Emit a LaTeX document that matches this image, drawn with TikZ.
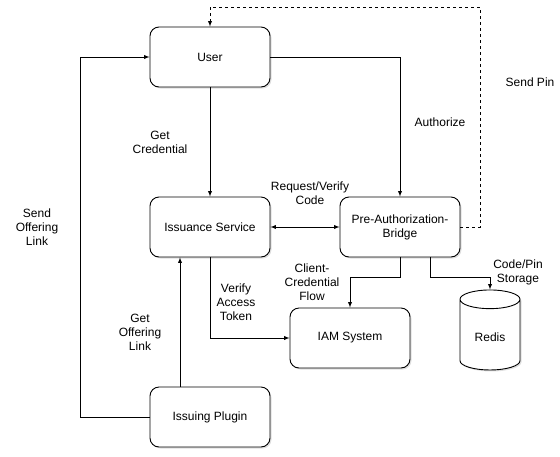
\documentclass[tikz,border=0pt]{standalone}
\usepackage{fontspec}
\setmainfont{Liberation Sans}
\usetikzlibrary{shapes.geometric, shadows}

\begin{document}
\begin{tikzpicture}[x=1pt,y=-1pt,>=latex,line width=0.9pt,
        font=\fontsize{12}{14}\selectfont,
        box/.style={draw,fill=white,rounded corners=9pt,minimum width=120pt,minimum height=60pt,align=center,
            drop shadow={opacity=0.25,shadow xshift=1.5pt,shadow yshift=-1.5pt}},
        store/.style={draw,fill=white,cylinder,shape border rotate=90,aspect=0.5,minimum width=60pt,minimum height=80pt,
            drop shadow={opacity=0.25,shadow xshift=1.5pt,shadow yshift=-1.5pt}},
        lbl/.style={align=center},
        pin/.style={dash pattern=on 3pt off 3pt}]
        \useasboundingbox (0,0) rectangle (560,456);

        % draw the boxes
        \node[box] (user)   at (210,57)  {User};
        \node[box] (issue)  at (210,227) {Issuance Service};
        \node[box] (bridge) at (400,227) {Pre-Authorization-\\Bridge};
        \node[box] (iam)    at (350,338) {IAM System};
        \node[box] (plugin) at (210,417) {Issuing Plugin};
        \node[store] (redis) at (490,337) {Redis};

        % corners of the long connectors
        \coordinate (pinTop)  at (480,7);
        \coordinate (linkTop) at (80,57);

        % draw the connectors
        \draw[->] (user) -- (issue);
        \draw[->] (user.east) -| (bridge.north);
        \draw[<->] (issue) -- (bridge);
        \draw[->,pin] (bridge.east) -| (pinTop) -| (user.north);
        \draw[->] (issue.south) |- (iam.west);
        \draw[->] ([xshift=-30pt]plugin.north) -- ([xshift=-30pt]issue.south);
        \draw[->] (plugin.west) -| (linkTop) -- (user.west);
        \draw[->] (bridge.south) -- ++(0,20) -| (iam.north);
        \draw[->] ([xshift=30pt]bridge.south) -- ++(0,20) -| (redis.north);

        % the labels
        \node[lbl] (getCred)   at (160,142) {Get\\Credential};
        \node[lbl] (authorize) at (440,122) {Authorize};
        \node[lbl] (sendPin)   at (530,82)  {Send Pin};
        \node[lbl] (reqCode)   at (310,193) {Request/Verify\\Code};
        \node[lbl] (sendLink)  at (37,227)  {Send\\Offering\\Link};
        \node[lbl] (getLink)   at (140,332) {Get\\Offering\\Link};
        \node[lbl] (verify)    at (236,302) {Verify\\Access\\Token};
        \node[lbl] (client)    at (312,282) {Client-\\Credential\\Flow};
        \node[lbl] (codePin)   at (518,272) {Code/Pin\\Storage};
    \end{tikzpicture}
\end{document}
